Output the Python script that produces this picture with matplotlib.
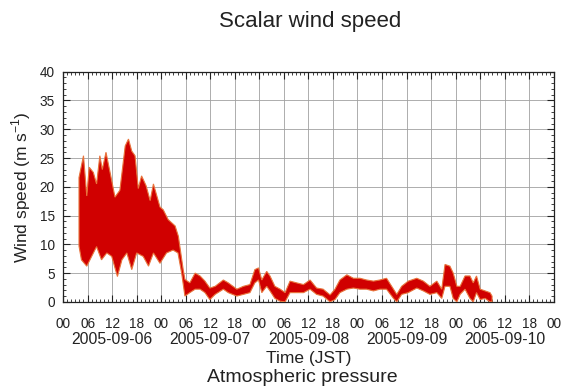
import numpy as np
import matplotlib
matplotlib.use('Agg')
import matplotlib.pyplot as plt
from matplotlib.ticker import MultipleLocator

plt.rcParams['font.family'] = ['Liberation Sans', 'DejaVu Sans']

# hours since 2005-09-06 00:00 JST; upper and lower envelope of the trace
hi_hours = [3.9, 5.0, 5.8, 6.4, 7.4, 8.2, 9.0, 9.6, 10.5, 11.5, 12.7, 13.9,
            15.2, 16.0, 16.8, 17.6, 18.4, 19.2, 20.3, 21.3, 22.1, 23.7, 24.5,
            25.7, 27.4, 28.2, 29.4, 29.8,
            31.0, 32.3, 33.5, 34.7, 35.9, 37.2, 39.2, 40.4, 42.5, 44.1, 45.7,
            46.9, 47.8, 48.6, 49.8, 50.6, 51.8, 53.1, 54.3, 55.5, 57.1, 58.8,
            60.4, 62.0, 63.6, 65.3, 66.5, 67.7, 69.4, 71.0, 72.6, 74.2, 75.9,
            77.5, 79.1, 80.8, 81.6, 82.8, 84.4, 86.5, 88.1, 89.7, 91.4, 92.6,
            93.4, 94.6, 95.4, 96.3, 97.1, 98.3, 99.5, 100.3, 101.1, 102.0,
            103.2, 104.4, 104.9]
hi = [21.6, 25.4, 18.4, 23.4, 22.5, 20.5, 25.4, 23.0, 26.0, 22.5, 18.2, 19.4,
      27.1, 28.3, 26.2, 25.4, 19.7, 21.9, 20.2, 17.6, 20.5, 16.5, 16.0,
      14.3, 13.2, 11.4, 5.5, 3.9,
      3.3, 5.0, 4.5, 3.6, 2.4, 2.7, 3.8, 3.3, 2.2, 2.7, 3.0,
      5.6, 5.9, 3.8, 5.3, 4.5, 2.7, 2.2, 1.6, 3.6, 3.3, 3.0,
      3.8, 2.4, 2.2, 1.2, 2.2, 3.8, 4.7, 4.1, 4.1, 3.8, 3.6,
      3.8, 4.1, 2.2, 1.3, 2.7, 3.6, 4.1, 3.6, 2.7, 3.6, 2.2,
      6.5, 6.2, 5.0, 2.7, 2.7, 4.5, 4.5, 3.3, 4.5, 2.2,
      1.9, 1.6, 1.0]

lo_hours = [3.9, 4.5, 5.8, 7.0, 8.2, 9.4, 10.7, 11.9, 13.3, 14.4, 15.6, 16.8,
            18.0, 19.6, 20.9, 22.1, 23.7, 25.3, 26.9, 28.1, 29.0, 29.8,
            31.0, 32.3, 33.5, 34.7, 35.9, 37.2, 39.2, 40.4, 42.5, 44.1, 45.7,
            46.9, 47.8, 48.6, 49.8, 50.6, 51.8, 53.1, 54.3, 55.5, 57.1, 58.8,
            60.4, 62.0, 63.6, 65.3, 66.5, 67.7, 69.4, 71.0, 72.6, 74.2, 75.9,
            77.5, 79.1, 80.8, 81.6, 82.8, 84.4, 86.5, 88.1, 89.7, 91.4, 92.6,
            93.4, 94.6, 95.4, 96.3, 97.1, 98.3, 99.5, 100.3, 101.1, 102.0,
            103.2, 104.4, 104.9]
lo = [9.7, 7.3, 6.2, 7.9, 9.6, 7.3, 8.5, 7.9, 4.4, 7.3, 8.5, 5.6,
      8.5, 7.9, 6.2, 8.5, 6.7, 8.5, 9.0, 8.5, 5.0, 1.0,
      1.6, 2.2, 2.2, 1.6, 0.4, 1.3, 2.2, 1.6, 1.0, 1.3, 1.6,
      3.3, 3.8, 1.6, 2.7, 1.9, 0.6, 0.1, 0.0, 1.6, 1.6, 1.6,
      2.2, 1.3, 1.0, 0.0, 0.4, 1.6, 2.2, 2.4, 2.2, 2.2, 1.9,
      2.2, 2.2, 0.6, 0.0, 1.3, 1.6, 2.4, 1.9, 1.3, 1.6, 0.6,
      2.7, 2.7, 0.6, 0.0, 1.3, 2.2, 0.6, 0.0, 1.6, 0.4,
      0.6, 0.0, 0.0]

tick_labels = ['00', '06', '12', '18'] * 5 + ['00']
day_labels = ['2005-09-06', '2005-09-07', '2005-09-08', '2005-09-09', '2005-09-10']

fig = plt.figure(figsize=(5.68, 3.92), dpi=100)
ax = fig.add_axes([0.111, 0.230, 0.864, 0.587])

# envelope polygon: upper edge forward, lower edge backward
px = np.r_[hi_hours, lo_hours[::-1]]
py = np.r_[hi, lo[::-1]]
ax.fill(px, py, facecolor='#d00000', edgecolor='#e8743c', linewidth=0.8,
        zorder=3)

ax.set_xlim(0, 120)
ax.set_ylim(0, 40)
ax.xaxis.set_minor_locator(MultipleLocator(1))
ax.yaxis.set_major_locator(MultipleLocator(5))
ax.yaxis.set_minor_locator(MultipleLocator(1))
ax.set_xticks(np.arange(0, 121, 6))
ax.set_xticklabels(tick_labels)
ax.grid(True, which='major', color='#a0a0a0', linewidth=0.6, zorder=1)
ax.tick_params(which='both', direction='in', top=True, right=True,
               labelsize=9.8, colors='#222222')
ax.tick_params(axis='x', pad=11)
ax.tick_params(axis='y', pad=6)
ax.tick_params(which='major', length=5, width=0.8)
ax.tick_params(which='minor', length=2.5, width=0.6)
for s in ax.spines.values():
    s.set_linewidth(0.9)
    s.set_color('#222222')

for i, d in enumerate(day_labels):
    ax.text(24 * i + 12, -0.132, d, transform=ax.get_xaxis_transform(),
            ha='center', va='top', fontsize=11.3, color='#222222')

ax.set_ylabel('Wind speed (m s$^{\\mathregular{-1}}$)', fontsize=12.5,
              labelpad=5, color='#222222')
ax.text(0.5, -0.212, 'Time (JST)', transform=ax.transAxes, ha='center',
        va='top', fontsize=12.5, color='#222222')

fig.text(0.546, 0.944, 'Scalar wind speed', ha='center', va='center',
         fontsize=16, color='#222222')
fig.text(0.532, 0.036, 'Atmospheric pressure', ha='center', va='center',
         fontsize=14, color='#222222')

fig.savefig('out.png', dpi=100)
